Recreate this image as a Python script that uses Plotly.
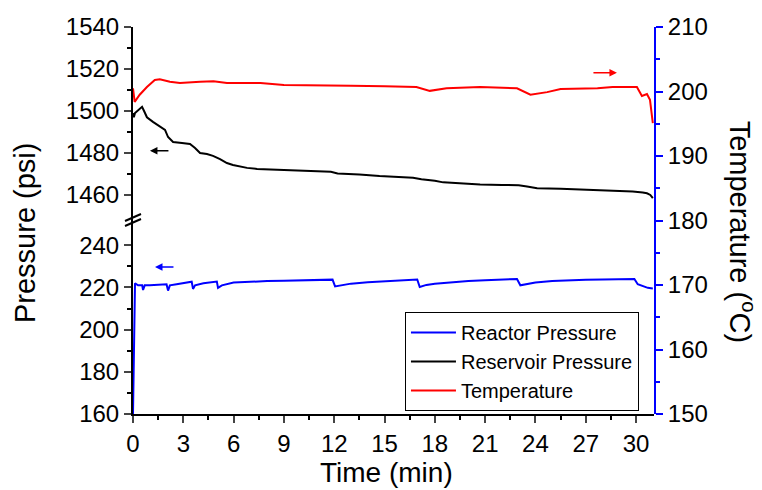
import plotly.graph_objects as go

# ---------------- data ----------------
reactor_t = [0, 0.05, 0.12, 0.3, 0.55, 0.6, 0.7, 1.0, 1.5, 2.0, 2.09, 2.2, 2.6, 3.0, 3.5, 3.58, 3.7,
             4.2, 4.7, 5.0, 5.07, 5.3, 6, 7, 8, 9, 10, 11, 11.9, 12.05, 12.5, 13, 14, 15, 16, 16.95,
             17.1, 17.5, 18, 19, 20, 21, 22, 22.9, 23.1, 23.5, 24, 25, 26, 27, 28, 29, 29.9, 30.1,
             30.4, 30.7, 31.0]
reactor_p = [160, 190, 222, 221, 221, 218.8, 221, 221, 221.3, 221.5, 218.5, 221, 221.5, 222, 222.7,
             219.3, 221, 222, 222.5, 222.8, 219.8, 221, 222.3, 222.8, 223, 223.2, 223.4, 223.6, 223.7,
             220.5, 221, 221.8, 222.5, 223, 223.5, 223.8, 220.2, 221.2, 221.8, 222.5, 223, 223.4,
             223.7, 224, 221, 221.5, 222.3, 223, 223.4, 223.6, 223.8, 224, 224, 221.5, 220.8, 219.8,
             219.5]

reservoir_t = [0, 0.05, 0.12, 0.3, 0.54, 0.66, 0.83, 1.19, 1.61, 1.91, 2.09, 2.39, 2.92, 3.4, 3.7,
               4.0, 4.41, 4.77, 5.19, 5.6, 5.96, 6.8, 7.4, 9.0, 10.5, 11.8, 12.2, 13.5, 14.7, 16.0,
               16.7, 17.2, 18.0, 18.5, 19.5, 20.7, 22.0, 23.0, 23.5, 24.1, 25.5, 26.65, 28.0, 29.0,
               29.8, 30.4, 30.65, 30.85, 31.0]
reservoir_p = [1499, 1497, 1499, 1500.5, 1502, 1500, 1497, 1494.8, 1492.4, 1491, 1487.6, 1485.2,
               1484.8, 1484.3, 1482.4, 1480, 1479.5, 1478.6, 1477.1, 1475.2, 1474.3, 1472.9, 1472.4,
               1472.0, 1471.5, 1471.0, 1470.2, 1469.8, 1469.0, 1468.6, 1468.2, 1467.5, 1466.8,
               1466.0, 1465.5, 1465.0, 1464.8, 1464.6, 1464.0, 1463.2, 1463.0, 1462.6, 1462.4,
               1462.0, 1461.6, 1461.2, 1460.8, 1460.0, 1458.5]

temp_t = [0, 0.1, 0.4, 0.83, 1.3, 1.6, 2.2, 2.8, 4.0, 4.8, 5.6, 7.6, 9, 11, 13, 15, 16.9, 17.7, 18.7,
          20.7, 22.9, 23.7, 24.7, 25.5, 27.7, 28.6, 30.05, 30.35, 30.65, 30.83, 31.0]
temp_c = [200.5, 198.4, 199.5, 200.7, 201.8, 201.9, 201.5, 201.3, 201.5, 201.6, 201.3, 201.3, 201.0,
          201.0, 200.9, 200.8, 200.7, 200.1, 200.5, 200.7, 200.5, 199.5, 199.9, 200.4, 200.5, 200.7,
          200.7, 199.3, 199.6, 198.7, 195.1]

x_ticks = [0, 3, 6, 9, 12, 15, 18, 21, 24, 27, 30]
low_ticks = [160, 180, 200, 220, 240]
high_ticks = [1460, 1480, 1500, 1520, 1540]
temp_ticks = [150, 160, 170, 180, 190, 200, 210]

FONT = "Liberation Sans, Arial, sans-serif"
X_RANGE = [0, 31.07]
SPLIT = 0.496

fig = go.Figure()
fig.add_trace(go.Scatter(x=reactor_t, y=reactor_p, mode="lines", name="Reactor Pressure",
                         line=dict(color="#0000FF", width=2), xaxis="x", yaxis="y"))
fig.add_trace(go.Scatter(x=reservoir_t, y=reservoir_p, mode="lines", name="Reservoir Pressure",
                         line=dict(color="#000000", width=2), xaxis="x", yaxis="y3"))
fig.add_trace(go.Scatter(x=temp_t, y=temp_c, mode="lines", name="Temperature",
                         line=dict(color="#FF0000", width=2), xaxis="x", yaxis="y2"))

tickfont = dict(family=FONT, size=24, color="black")

fig.update_layout(
    width=762, height=490,
    margin=dict(l=133, r=108, t=27, b=76),
    paper_bgcolor="white", plot_bgcolor="rgba(0,0,0,0)",
    font=dict(family=FONT, color="black"),
    xaxis=dict(range=X_RANGE, anchor="y", tickvals=x_ticks, ticks="outside", ticklen=7,
               tickwidth=1.5, showline=True, linecolor="black", linewidth=2, showgrid=False,
               zeroline=False, tickfont=tickfont,
               minor=dict(tickvals=[1.5 + 3 * i for i in range(11)], ticks="outside", ticklen=4,
                          tickwidth=1.5, tickcolor="black")),
    xaxis2=dict(range=X_RANGE, overlaying="x", anchor="y2", side="top", tickvals=x_ticks,
                ticks="inside", ticklen=7, tickwidth=1.5, showline=True, linecolor="black",
                linewidth=2, showgrid=False, zeroline=False, showticklabels=False,
                minor=dict(tickvals=[1.5 + 3 * i for i in range(11)], ticks="inside", ticklen=4,
                           tickwidth=1.5, tickcolor="black")),
    yaxis=dict(range=[160, 251], domain=[0, SPLIT], anchor="x", tickvals=low_ticks,
               ticks="outside", ticklen=7, tickwidth=1.5, showline=True, linecolor="black",
               linewidth=2, showgrid=False, zeroline=False, tickfont=tickfont,
               minor=dict(tickvals=[170, 190, 210, 230], ticks="outside", ticklen=4, tickwidth=1.5,
                          tickcolor="black")),
    yaxis3=dict(range=[1447.1, 1540], domain=[SPLIT, 1], anchor="x", side="left",
                tickvals=high_ticks, ticks="outside", ticklen=7, tickwidth=1.5, showline=True,
                linecolor="black", linewidth=2, showgrid=False, zeroline=False, tickfont=tickfont,
                minor=dict(tickvals=[1470, 1490, 1510, 1530], ticks="outside", ticklen=4,
                           tickwidth=1.5, tickcolor="black")),
    yaxis2=dict(range=[150, 210], domain=[0, 1], anchor="x", side="right", tickvals=temp_ticks,
                ticks="outside", ticklen=7, tickwidth=1.5, tickcolor="#0000FF", showline=True,
                linecolor="#0000FF", linewidth=2, showgrid=False, zeroline=False,
                tickfont=tickfont,
                minor=dict(tickvals=[155, 165, 175, 185, 195, 205], ticks="outside", ticklen=4,
                           tickwidth=1.5, tickcolor="#0000FF")),
    legend=dict(x=0.522, y=0.2636, xanchor="left", yanchor="top", bordercolor="black",
                borderwidth=1, bgcolor="white", font=dict(family=FONT, size=20, color="black"),
                tracegroupgap=0, itemwidth=45),
    showlegend=True,
)

# axis titles
fig.add_annotation(text="Time (min)", xref="paper", yref="paper", x=0.487, y=-0.152,
                   showarrow=False, font=dict(family=FONT, size=28), xanchor="center",
                   yanchor="middle")
fig.add_annotation(text="Pressure (psi)", xref="paper", yref="paper", x=-0.207, y=0.468,
                   showarrow=False, textangle=-90, font=dict(family=FONT, size=29),
                   xanchor="center", yanchor="middle")
fig.add_annotation(text="Temperature (<sup>o</sup>C)", xref="paper", yref="paper", x=1.169,
                   y=0.471, showarrow=False, textangle=90, font=dict(family=FONT, size=29),
                   xanchor="center", yanchor="middle")

# series arrows
fig.add_annotation(x=1.01, y=1481, xref="x", yref="y3", ax=20, ay=0, showarrow=True,
                   arrowhead=2, arrowsize=1, arrowwidth=1.5, arrowcolor="black", text="")
fig.add_annotation(x=1.31, y=229.7, xref="x", yref="y", ax=20, ay=0, showarrow=True,
                   arrowhead=2, arrowsize=1, arrowwidth=1.5, arrowcolor="#0000FF", text="")
fig.add_annotation(x=28.86, y=202.9, xref="x", yref="y2", ax=-25, ay=0, showarrow=True,
                   arrowhead=2, arrowsize=1, arrowwidth=1.5, arrowcolor="#FF0000", text="")

# axis break marks
def px(xp):
    return (xp - 133) / 521.0

def py(yp):
    return (414 - yp) / 387.0

for dy in (0, 5):
    fig.add_shape(type="line", xref="paper", yref="paper",
                  x0=px(125), y0=py(221 + dy), x1=px(141), y1=py(214 + dy),
                  line=dict(color="black", width=2))

fig.write_html("out.html")
